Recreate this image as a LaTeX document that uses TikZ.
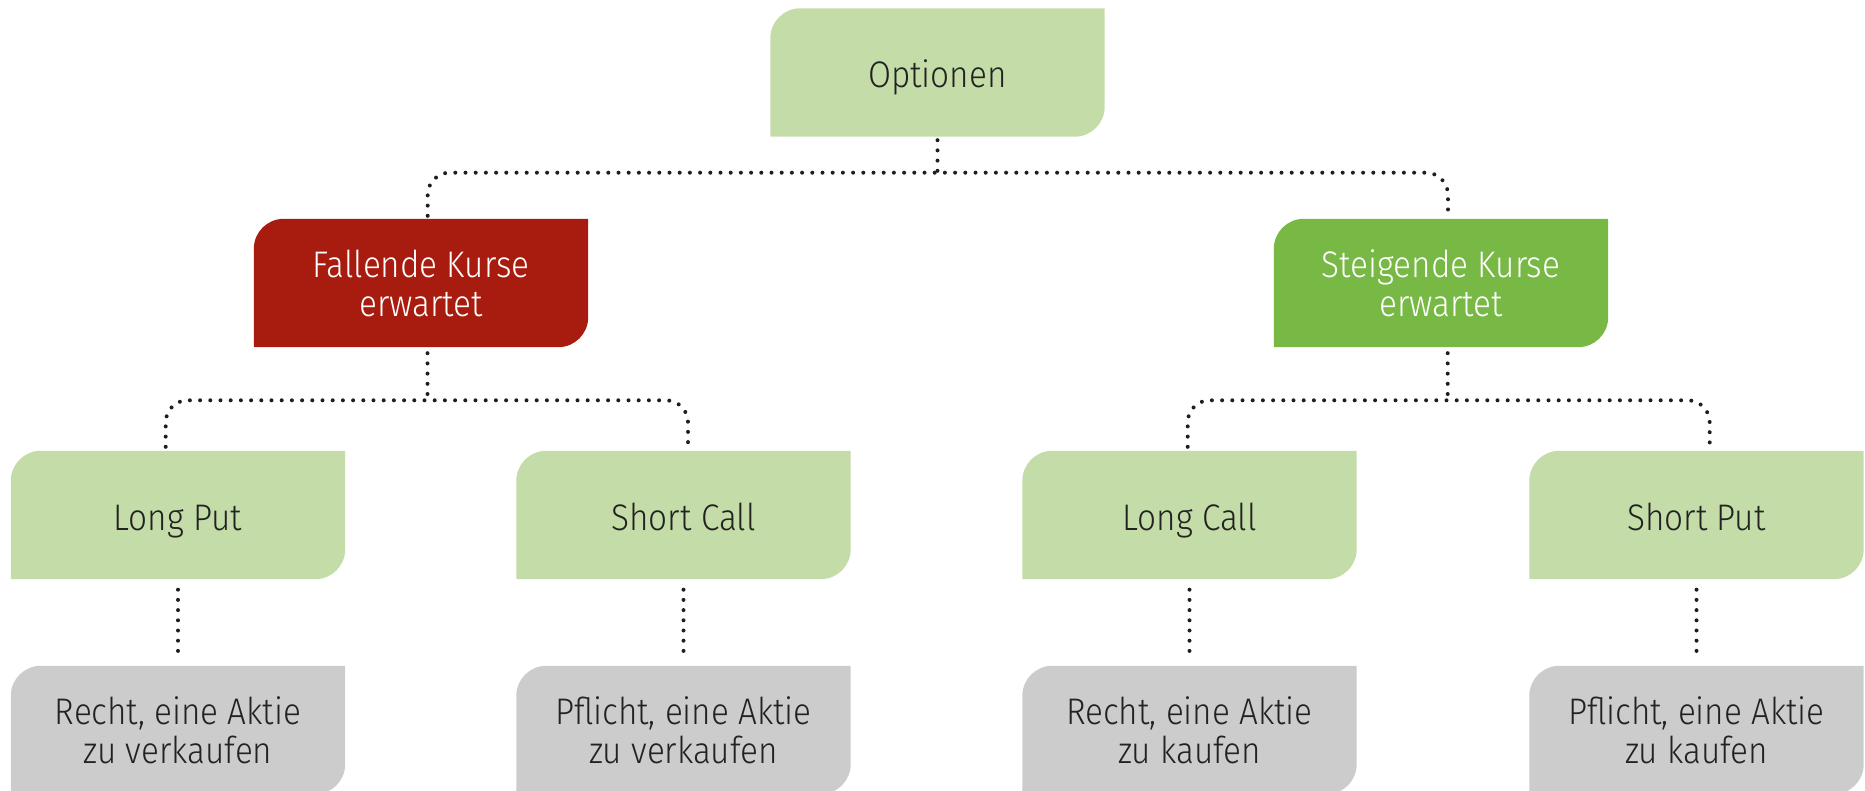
\documentclass[tikz,border=0pt]{standalone}
\usepackage{fontspec}
\setmainfont{Fira Sans}[UprightFont=* Light, FakeStretch=0.9]
\usetikzlibrary{calc,backgrounds}

\definecolor{paleGreen}{HTML}{C4DCA7}
\definecolor{fallRed}{HTML}{A81C0F}
\definecolor{riseGreen}{HTML}{77B944}
\definecolor{cardGrey}{HTML}{CCCCCC}
\definecolor{inkDark}{HTML}{222222}
\definecolor{dotInk}{HTML}{1E1E1E}

% card outline: rounded top-left and bottom-right corners only
\newcommand\cardshape[2]{%
  \fill[#2] (#1.south west) -- ([yshift=-30pt]#1.north west)
    arc[start angle=180,end angle=90,radius=30pt] -- (#1.north east)
    -- ([yshift=30pt]#1.south east)
    arc[start angle=0,end angle=-90,radius=30pt] -- cycle;}

\begin{document}
\begin{tikzpicture}[x=1pt,y=-1pt,
  card/.style={minimum width=334pt, minimum height=128pt, inner sep=0pt,
    align=center, text=inkDark, font=\fontsize{37}{39}\selectfont},
  oneline/.style={card, text height=30pt, text depth=0pt},
  lightcard/.style={card, text=white},
  conn/.style={draw=dotInk, line width=4pt, line cap=round,
    dash pattern=on 0pt off 10.2pt, rounded corners=22pt}]
\useasboundingbox (0,0) rectangle (1865,791);
\clip (0,0) rectangle (1865,791);

% nodes
\node[oneline]   (opt)   at (937.5,72.5) {Optionen};
\node[lightcard] (fall)  at (421,283)    {Fallende Kurse\\erwartet};
\node[lightcard] (rise)  at (1441,283)   {Steigende Kurse\\erwartet};
\node[oneline]   (lput)  at (178,515)    {Long Put};
\node[oneline]   (scall) at (683.5,515)  {Short Call};
\node[oneline]   (lcall) at (1189.5,515) {Long Call};
\node[oneline]   (sput)  at (1696.5,515) {Short Put};
\node[card]      (r1)    at (178,730)    {Recht, eine Aktie\\zu verkaufen};
\node[card]      (r2)    at (683.5,730)  {Pflicht, eine Aktie\\zu verkaufen};
\node[card]      (r3)    at (1189.5,730) {Recht, eine Aktie\\zu kaufen};
\node[card]      (r4)    at (1696.5,730) {Pflicht, eine Aktie\\zu kaufen};

\begin{scope}[on background layer]
  \cardshape{opt}{paleGreen}
  \cardshape{fall}{fallRed}
  \cardshape{rise}{riseGreen}
  \foreach \n in {lput,scall,lcall,sput}{\cardshape{\n}{paleGreen}}
  \foreach \n in {r1,r2,r3,r4}{\cardshape{\n}{cardGrey}}
\end{scope}

% junction points of the bars
\coordinate (barTop)  at (937.5,172.7);
\coordinate (barFall) at (427.5,400.3);
\coordinate (barRise) at (1447.7,400.3);

% top level
\draw[conn] ($(opt.south)+(0,3.5)$) -- (barTop);
\draw[conn] ($(fall.north)+(6.7,-3)$) |- (barTop) -| ($(rise.north)+(7,-3)$);

% falling branch
\draw[conn] ($(fall.south -| barFall)+(0,6)$) -- (barFall);
\draw[conn] ($(lput.north)+(-12.3,-4)$) |- (barFall) -| ($(scall.north)+(4.5,-4)$);

% rising branch
\draw[conn] ($(rise.south -| barRise)+(0,6)$) -- (barRise);
\draw[conn] ($(lcall.north)+(-1.8,-4)$) |- (barRise) -| ($(sput.north)+(13.2,-4)$);

% option to its meaning
\foreach \a/\b in {lput/r1,scall/r2,lcall/r3,sput/r4}
  \draw[conn] ($(\a.south)+(0,10.5)$) -- ($(\b.north)+(0,-5.5)$);
\end{tikzpicture}
\end{document}
